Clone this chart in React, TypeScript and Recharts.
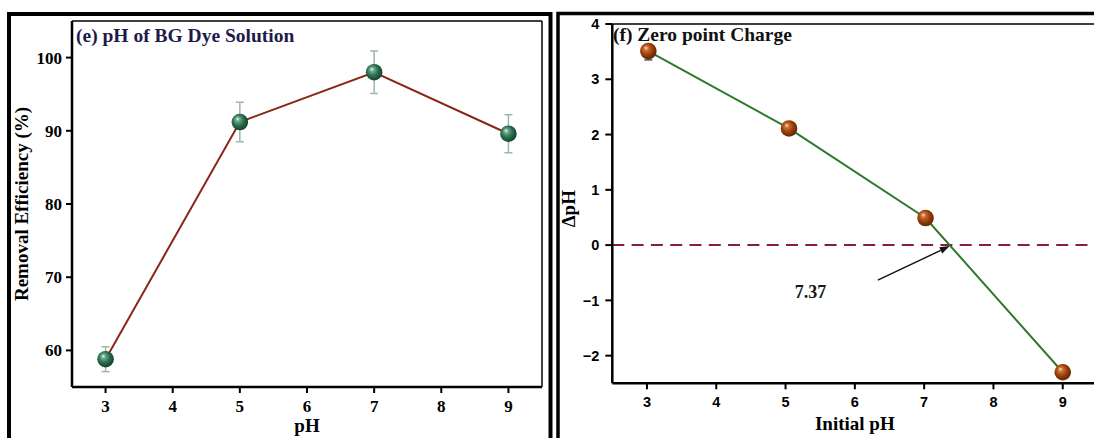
import React from "react";
import {
  ErrorBar,
  Label,
  Line,
  LineChart,
  ReferenceDot,
  ReferenceLine,
  XAxis,
  YAxis,
} from "recharts";

// (e) pH of BG dye solution
const phValues = [3, 5, 7, 9];
const removalEfficiency = [58.8, 91.2, 98.0, 89.6];
const removalError = [1.7, 2.7, 2.9, 2.6];
const removalTicks = [60, 70, 80, 90, 100];

// (f) zero point charge
const initialPh = [3.02, 5.05, 7.02, 9.0];
const deltaPh = [3.51, 2.11, 0.49, -2.3];
const deltaPhError: [number, number][] = [
  [0.16, 0],
  [0, 0],
  [0, 0],
  [0, 0],
];
const deltaTicks = [-2, -1, 0, 1, 2, 3, 4];
const pzc = 7.37;

const phTicks = [3, 4, 5, 6, 7, 8, 9];

const serif = '"Liberation Serif", "Times New Roman", serif';
const sans = '"Liberation Sans", Arial, sans-serif';

const removalData = phValues.map((ph, i) => ({
  ph,
  value: removalEfficiency[i],
  err: removalError[i],
}));

const zpcData = initialPh.map((ph, i) => ({
  ph,
  value: deltaPh[i],
  err: deltaPhError[i],
}));

const minus = (v: number) => (v < 0 ? `\u2212${Math.abs(v)}` : String(v));

const sphere = (fillId: string) => (p: any) => (
  <circle
    key={`dot-${fillId}-${p.index}`}
    cx={p.cx}
    cy={p.cy}
    r={8.3}
    fill={`url(#${fillId})`}
  />
);

const PzcArrow = (p: any) => {
  const tipX = p.cx;
  const tipY = p.cy + 1;
  const tailX = tipX - 72;
  const tailY = tipY + 34;
  const dx = tipX - tailX;
  const dy = tipY - tailY;
  const len = Math.hypot(dx, dy);
  const ux = dx / len;
  const uy = dy / len;
  const bx = tipX - ux * 10;
  const by = tipY - uy * 10;
  const head = `${tipX},${tipY} ${bx - uy * 3.5},${by + ux * 3.5} ${bx + uy * 3.5},${by - ux * 3.5}`;
  return (
    <g>
      <line x1={tailX} y1={tailY} x2={bx} y2={by} stroke="#111" strokeWidth={1.4} />
      <polygon points={head} fill="#111" />
      <text
        x={tipX - 155}
        y={tipY + 52}
        fontFamily={serif}
        fontWeight={700}
        fontSize={18}
        fill="#1a1a1a"
      >
        {String(pzc)}
      </text>
    </g>
  );
};

export default function App() {
  return (
    <div
      style={{
        position: "absolute",
        left: 0,
        top: 0,
        width: 1094,
        height: 438,
        overflow: "hidden",
        background: "#fff",
      }}
    >
      <svg
        width={1094}
        height={438}
        style={{ position: "absolute", left: 0, top: 0 }}
      >
        <rect x={9} y={14} width={541.5} height={500} fill="none" stroke="#000" strokeWidth={4} />
        <rect x={558} y={13.5} width={600} height={500} fill="none" stroke="#000" strokeWidth={3.5} />
        <text x={76} y={41.5} fontFamily={serif} fontWeight={700} fontSize={19.5} fill="#1e1b4b">
          (e) pH of BG Dye Solution
        </text>
        <text x={613} y={41} fontFamily={serif} fontWeight={700} fontSize={19.5} fill="#111">
          (f) Zero point Charge
        </text>
      </svg>

      <div style={{ position: "absolute", left: 0, top: 0 }}>
        <LineChart
          width={560}
          height={438}
          data={removalData}
          margin={{ top: 21, right: 18, bottom: 21, left: 22 }}
        >
          <defs>
            <radialGradient id="greenSphere" cx="45%" cy="45%" r="60%" fx="35%" fy="30%">
              <stop offset="0%" stopColor="#eef7f2" />
              <stop offset="22%" stopColor="#6aa88b" />
              <stop offset="55%" stopColor="#2a6f50" />
              <stop offset="100%" stopColor="#0f3a28" />
            </radialGradient>
          </defs>
          <XAxis
            dataKey="ph"
            type="number"
            domain={[2.5, 9.5]}
            ticks={phTicks}
            allowDataOverflow
            height={30}
            axisLine={{ stroke: "#000", strokeWidth: 2.5 }}
            tickLine={{ stroke: "#000", strokeWidth: 2 }}
            tickSize={6}
            tickMargin={7}
            tick={{ fill: "#000", fontSize: 17, fontWeight: 700, fontFamily: serif }}
          >
            <Label
              content={(lp: any) => (
                <text
                  x={lp.viewBox.x + lp.viewBox.width / 2}
                  y={431.5}
                  textAnchor="middle"
                  fontFamily={serif}
                  fontWeight={700}
                  fontSize={19}
                  fill="#000"
                >
                  pH
                </text>
              )}
            />
          </XAxis>
          <YAxis
            type="number"
            domain={[55, 105]}
            ticks={removalTicks}
            allowDataOverflow
            width={50}
            axisLine={{ stroke: "#000", strokeWidth: 2.5 }}
            tickLine={{ stroke: "#000", strokeWidth: 2 }}
            tickSize={6}
            tickMargin={4}
            tick={{ fill: "#000", fontSize: 17, fontWeight: 700, fontFamily: serif }}
          >
            <Label
              content={(lp: any) => {
                const cy = lp.viewBox.y + lp.viewBox.height / 2;
                return (
                  <text
                    x={28}
                    y={cy}
                    transform={`rotate(-90 28 ${cy})`}
                    textAnchor="middle"
                    fontFamily={serif}
                    fontWeight={700}
                    fontSize={19}
                    fill="#000"
                  >
                    Removal Efficiency (%)
                  </text>
                );
              }}
            />
          </YAxis>
          <ReferenceLine y={105} stroke="#000" strokeWidth={1.5} />
          <ReferenceLine x={9.5} stroke="#000" strokeWidth={1.5} />
          <Line
            dataKey="value"
            type="linear"
            stroke="#8a2618"
            strokeWidth={2}
            dot={sphere("greenSphere")}
            activeDot={false}
            isAnimationActive={false}
          >
            <ErrorBar dataKey="err" direction="y" width={4} stroke="#9db8a9" strokeWidth={1.5} />
          </Line>
        </LineChart>
      </div>

      <div style={{ position: "absolute", left: 556, top: 0 }}>
        <LineChart
          width={560}
          height={438}
          data={zpcData}
          margin={{ top: 24, right: 18.6, bottom: 24.7, left: 16.3 }}
        >
          <defs>
            <radialGradient id="brownSphere" cx="45%" cy="45%" r="60%" fx="35%" fy="30%">
              <stop offset="0%" stopColor="#fbe6d6" />
              <stop offset="22%" stopColor="#cf7034" />
              <stop offset="55%" stopColor="#9c420c" />
              <stop offset="100%" stopColor="#561f03" />
            </radialGradient>
          </defs>
          <XAxis
            dataKey="ph"
            type="number"
            domain={[2.5, 9.5]}
            ticks={phTicks}
            allowDataOverflow
            height={30}
            axisLine={{ stroke: "#000", strokeWidth: 2.5 }}
            tickLine={{ stroke: "#000", strokeWidth: 2 }}
            tickSize={6}
            tickMargin={7}
            tick={{ fill: "#000", fontSize: 14.5, fontWeight: 700, fontFamily: sans }}
          >
            <Label
              content={(lp: any) => (
                <text
                  x={lp.viewBox.x + lp.viewBox.width / 2}
                  y={430}
                  textAnchor="middle"
                  fontFamily={serif}
                  fontWeight={700}
                  fontSize={19}
                  fill="#000"
                >
                  Initial pH
                </text>
              )}
            />
          </XAxis>
          <YAxis
            type="number"
            domain={[-2.5, 4]}
            ticks={deltaTicks}
            allowDataOverflow
            width={40}
            axisLine={{ stroke: "#000", strokeWidth: 2.5 }}
            tickLine={{ stroke: "#000", strokeWidth: 2 }}
            tickSize={7}
            tickMargin={6}
            tickFormatter={minus}
            tick={{ fill: "#000", fontSize: 14.5, fontWeight: 700, fontFamily: sans }}
          >
            <Label
              content={(lp: any) => {
                const cy = lp.viewBox.y + lp.viewBox.height / 2 + 5;
                return (
                  <text
                    x={19}
                    y={cy}
                    transform={`rotate(-90 19 ${cy})`}
                    textAnchor="middle"
                    fontFamily={serif}
                    fontWeight={700}
                    fontSize={19}
                    fill="#000"
                  >
                    ΔpH
                  </text>
                );
              }}
            />
          </YAxis>
          <ReferenceLine y={4} stroke="#000" strokeWidth={1.5} />
          <ReferenceLine y={0} stroke="#8a1a4a" strokeWidth={2} strokeDasharray="12 7.3" />
          <Line
            dataKey="value"
            type="linear"
            stroke="#2e7a2a"
            strokeWidth={2}
            dot={sphere("brownSphere")}
            activeDot={false}
            isAnimationActive={false}
          >
            <ErrorBar dataKey="err" direction="y" width={4} stroke="#555" strokeWidth={1.5} />
          </Line>
          <ReferenceDot x={pzc} y={0} r={0} shape={PzcArrow} />
        </LineChart>
      </div>
    </div>
  );
}
